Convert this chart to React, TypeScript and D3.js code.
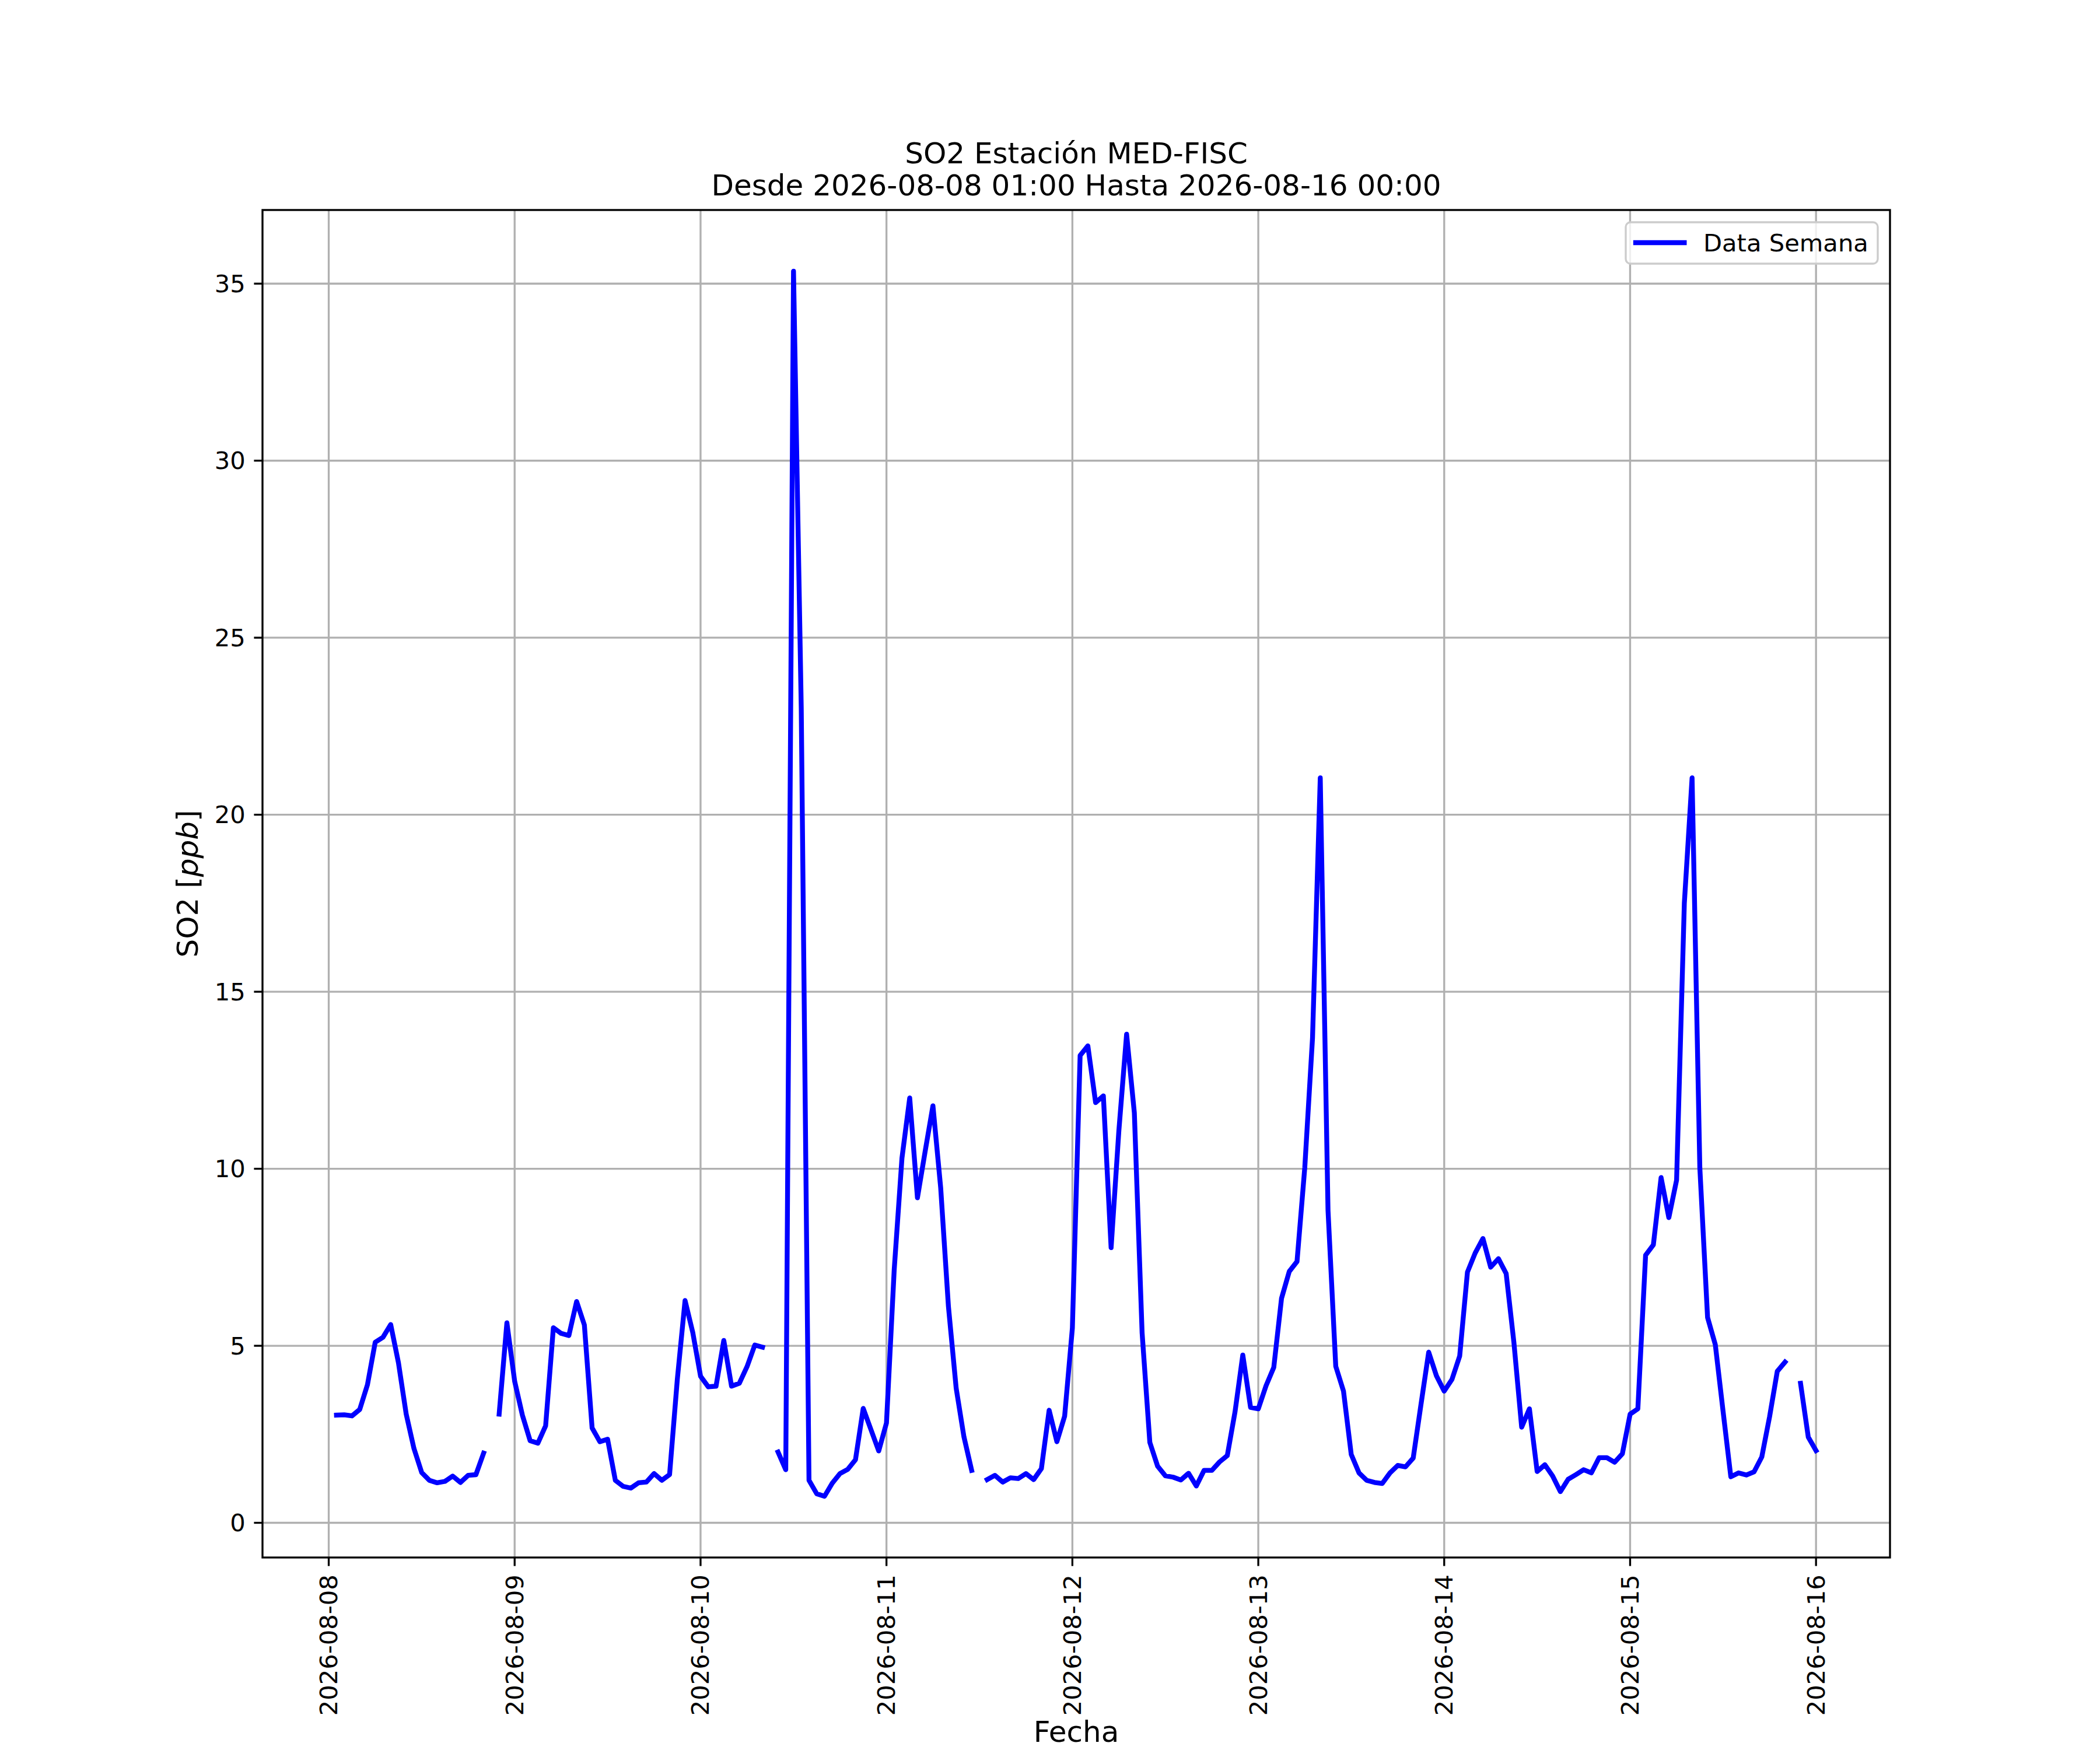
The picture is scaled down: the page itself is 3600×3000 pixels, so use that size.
import { useEffect, useRef } from 'react';
import * as d3 from 'd3';

// hourly SO2 readings (ppb), 01:00 .. 24:00 per day; null = missing hour
const day08 = [3.04, 3.05, 3.02, 3.2, 3.9, 5.1, 5.24, 5.6, 4.52, 3.07, 2.1, 1.42, 1.2, 1.13, 1.17, 1.32, 1.14, 1.34, 1.36, 1.97, null, 3.07, 5.65, 4.0];
const day09 = [3.04, 2.32, 2.25, 2.74, 5.51, 5.35, 5.29, 6.25, 5.59, 2.68, 2.29, 2.36, 1.2, 1.03, 0.98, 1.13, 1.15, 1.39, 1.2, 1.36, 4.05, 6.28, 5.37, 4.14];
const day10 = [3.84, 3.86, 5.15, 3.86, 3.94, 4.41, 5.02, 4.96, null, 2.0, 1.5, 35.35, 23.0, 1.2, 0.82, 0.75, 1.12, 1.39, 1.51, 1.78, 3.23, 2.63, 2.03, 2.82];
const day11 = [7.15, 10.3, 12.0, 9.18, 10.5, 11.78, 9.46, 6.11, 3.8, 2.43, 1.48, null, 1.22, 1.34, 1.15, 1.27, 1.25, 1.39, 1.22, 1.53, 3.18, 2.29, 3.01, 5.5];
const day12 = [13.2, 13.47, 11.87, 12.06, 7.77, 11.07, 13.8, 11.58, 5.37, 2.27, 1.6, 1.33, 1.29, 1.21, 1.4, 1.04, 1.48, 1.48, 1.72, 1.9, 3.14, 4.74, 3.26, 3.22];
const day13 = [3.87, 4.39, 6.34, 7.1, 7.38, 10.03, 13.69, 21.04, 8.83, 4.42, 3.72, 1.93, 1.41, 1.2, 1.14, 1.11, 1.41, 1.62, 1.58, 1.83, 3.34, 4.82, 4.15, 3.72];
const day14 = [4.05, 4.71, 7.08, 7.62, 8.03, 7.22, 7.46, 7.04, 5.09, 2.7, 3.22, 1.45, 1.64, 1.32, 0.88, 1.23, 1.36, 1.5, 1.41, 1.84, 1.84, 1.71, 1.95, 3.07];
const day15 = [3.22, 7.56, 7.85, 9.75, 8.62, 9.68, 17.5, 21.04, 10.03, 5.8, 5.03, 3.15, 1.3, 1.41, 1.35, 1.44, 1.86, 2.99, 4.28, 4.54, null, 3.94, 2.42, 2.04];

const xTickLabels = ['2026-08-08', '2026-08-09', '2026-08-10', '2026-08-11', '2026-08-12', '2026-08-13', '2026-08-14', '2026-08-15', '2026-08-16'];
const yTicks = [0, 5, 10, 15, 20, 25, 30, 35];

const title1 = 'SO2 Estación MED-FISC';
const title2 = 'Desde 2026-08-08 01:00 Hasta 2026-08-16 00:00';

type Pt = { t: Date; v: number | null };

export default function App() {
  const svgRef = useRef<SVGSVGElement>(null);

  useEffect(() => {
    if (!svgRef.current) return;
    const width = 3600;
    const height = 3000;
    const svg = d3.select(svgRef.current);
    svg.selectAll('*').remove();
    svg.attr('width', width).attr('height', height);

    const margin = { left: 450, right: 360, top: 360, bottom: 330 };
    const x0 = margin.left;
    const x1 = width - margin.right;
    const y0 = margin.top;
    const y1 = height - margin.bottom;
    const font = 'DejaVu Sans';
    const px = 300 / 72;

    const start = Date.UTC(2026, 7, 8, 1);
    const values = [...day08, ...day09, ...day10, ...day11, ...day12, ...day13, ...day14, ...day15];
    const data: Pt[] = values.map((v, i) => ({ t: new Date(start + i * 3600e3), v }));

    const tMin = data[0].t.getTime();
    const tMax = data[data.length - 1].t.getTime();
    const tPad = (tMax - tMin) * 0.05;
    const x = d3.scaleUtc()
      .domain([new Date(tMin - tPad), new Date(tMax + tPad)])
      .range([x0, x1]);

    const valid = values.filter(v => v != null) as number[];
    const vMin = d3.min(valid) || 0;
    const vMax = d3.max(valid) || 1;
    const vPad = (vMax - vMin) * 0.05;
    const y = d3.scaleLinear().domain([vMin - vPad, vMax + vPad]).range([y1, y0]);

    svg.append('rect').attr('width', width).attr('height', height).attr('fill', '#ffffff');

    const xTickDates = xTickLabels.map(s => new Date(s + 'T00:00:00Z'));

    // grid
    const grid = svg.append('g').attr('stroke', '#b0b0b0').attr('stroke-width', 0.8 * px);
    grid.selectAll('.gx').data(xTickDates).enter().append('line')
      .attr('x1', d => x(d)).attr('x2', d => x(d)).attr('y1', y0).attr('y2', y1);
    grid.selectAll('.gy').data(yTicks).enter().append('line')
      .attr('x1', x0).attr('x2', x1).attr('y1', d => y(d)).attr('y2', d => y(d));

    // series
    const line = d3.line<Pt>()
      .defined(d => d.v != null)
      .x(d => x(d.t))
      .y(d => y(d.v as number));

    const clip = svg.append('defs').append('clipPath').attr('id', 'plot-clip');
    clip.append('rect').attr('x', x0).attr('y', y0).attr('width', x1 - x0).attr('height', y1 - y0);

    svg.append('path')
      .datum(data)
      .attr('clip-path', 'url(#plot-clip)')
      .attr('fill', 'none')
      .attr('stroke', '#0000ff')
      .attr('stroke-width', 2 * px)
      .attr('stroke-linejoin', 'round')
      .attr('stroke-linecap', 'square')
      .attr('d', line);

    // spines
    svg.append('rect')
      .attr('x', x0).attr('y', y0).attr('width', x1 - x0).attr('height', y1 - y0)
      .attr('fill', 'none').attr('stroke', '#000').attr('stroke-width', 0.8 * px);

    const tickLen = 3.5 * px;
    const tickPad = 3.5 * px;
    const tickFont = 10 * px;

    // x ticks
    const xt = svg.append('g');
    xt.selectAll('line').data(xTickDates).enter().append('line')
      .attr('x1', d => x(d)).attr('x2', d => x(d))
      .attr('y1', y1).attr('y2', y1 + tickLen)
      .attr('stroke', '#000').attr('stroke-width', 0.8 * px);
    xt.selectAll('text').data(xTickDates).enter().append('text')
      .attr('transform', d => `translate(${x(d)},${y1 + tickLen + tickPad}) rotate(-90)`)
      .attr('text-anchor', 'end')
      .attr('dominant-baseline', 'central')
      .attr('font-family', font)
      .attr('font-size', tickFont)
      .text((_, i) => xTickLabels[i]);

    // y ticks
    const yt = svg.append('g');
    yt.selectAll('line').data(yTicks).enter().append('line')
      .attr('x1', x0 - tickLen).attr('x2', x0)
      .attr('y1', d => y(d)).attr('y2', d => y(d))
      .attr('stroke', '#000').attr('stroke-width', 0.8 * px);
    yt.selectAll('text').data(yTicks).enter().append('text')
      .attr('x', x0 - tickLen - tickPad)
      .attr('y', d => y(d))
      .attr('text-anchor', 'end')
      .attr('dominant-baseline', 'central')
      .attr('font-family', font)
      .attr('font-size', tickFont)
      .text(d => String(d));

    // axis labels
    const labelFont = 12 * px;
    svg.append('text')
      .attr('x', (x0 + x1) / 2).attr('y', 2986)
      .attr('text-anchor', 'middle')
      .attr('font-family', font).attr('font-size', labelFont)
      .text('Fecha');

    const yl = svg.append('text')
      .attr('transform', `translate(339,${(y0 + y1) / 2}) rotate(-90)`)
      .attr('text-anchor', 'middle')
      .attr('font-family', font).attr('font-size', labelFont);
    yl.append('tspan').text('SO2 [');
    yl.append('tspan').attr('font-style', 'italic').text('ppb');
    yl.append('tspan').text(']');

    // title
    const tt = svg.append('text')
      .attr('text-anchor', 'middle')
      .attr('font-family', font).attr('font-size', labelFont);
    tt.append('tspan').attr('x', (x0 + x1) / 2).attr('y', 280).text(title1);
    tt.append('tspan').attr('x', (x0 + x1) / 2).attr('y', 335).text(title2);

    // legend
    const lg = svg.append('g');
    const lx = 2787;
    const ly = 381;
    lg.append('rect')
      .attr('x', lx).attr('y', ly).attr('width', 3219 - lx).attr('height', 71)
      .attr('rx', 8).attr('fill', '#ffffff').attr('fill-opacity', 0.8)
      .attr('stroke', '#cccccc').attr('stroke-width', 0.8 * px);
    lg.append('line')
      .attr('x1', lx + 17).attr('x2', lx + 17 + 20 * px)
      .attr('y1', ly + 35).attr('y2', ly + 35)
      .attr('stroke', '#0000ff').attr('stroke-width', 2 * px).attr('stroke-linecap', 'square');
    lg.append('text')
      .attr('x', 2920).attr('y', ly + 35)
      .attr('dominant-baseline', 'central')
      .attr('font-family', font).attr('font-size', tickFont)
      .text('Data Semana');
  }, []);

  return <svg ref={svgRef} style={{ position: 'absolute', left: 0, top: 0, display: 'block' }}></svg>;
}
